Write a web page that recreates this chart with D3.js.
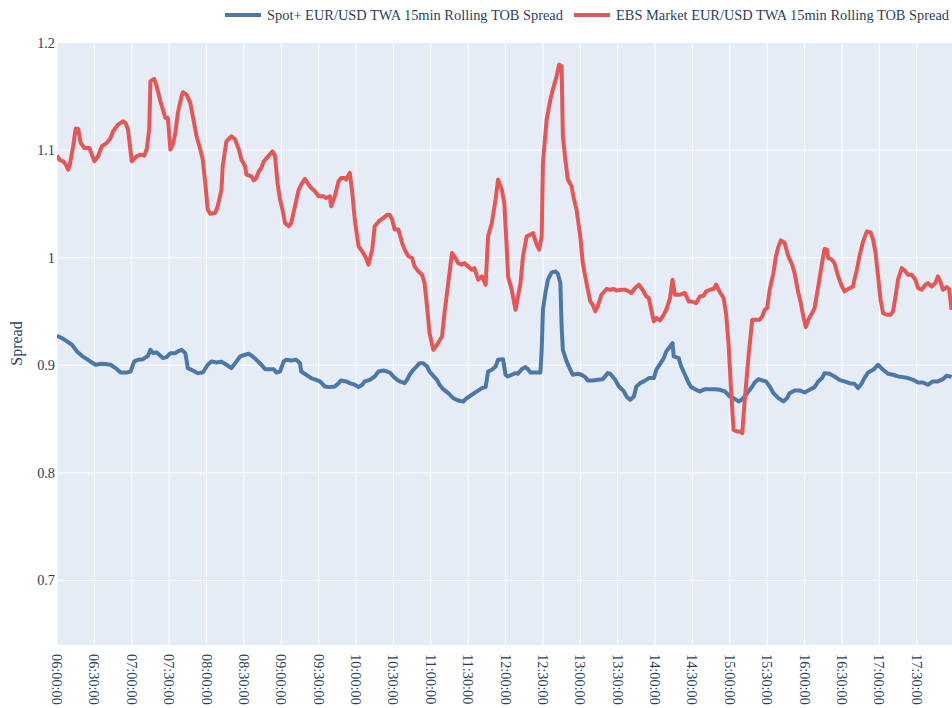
<!DOCTYPE html>
<html>
<head>
<meta charset="utf-8">
<script src="https://cdn.jsdelivr.net/npm/d3@7"></script>
<style>
  body { margin: 0; background: #fff; }
  svg { display: block; font-family: "Liberation Serif", "Times New Roman", serif; }
</style>
</head>
<body>
<div id="chart"></div>
<script>
// series names
const seriesNames = [
  "Spot+ EUR/USD TWA 15min Rolling TOB Spread",
  "EBS Market EUR/USD TWA 15min Rolling TOB Spread"
];

// Spot+ (blue)
const spotTimes = ["06:00","06:04","06:08","06:12","06:16","06:20","06:24","06:28","06:31","06:35","06:39","06:43","06:47","06:51","06:56","06:59",
  "07:02","07:05","07:09","07:13","07:15","07:17","07:20","07:23","07:25","07:28","07:31","07:35","07:37","07:40","07:43","07:45","07:49","07:53","07:57",
  "08:01","08:04","08:08","08:12","08:16","08:20","08:23","08:27","08:31","08:34","08:37","08:40","08:44","08:47","08:51","08:54","08:56","08:59",
  "09:02","09:04","09:08","09:12","09:15","09:16","09:20","09:24","09:28","09:31","09:35","09:39","09:43","09:46","09:48","09:52","09:55","09:59",
  "10:02","10:05","10:07","10:11","10:15","10:18","10:22","10:25","10:27","10:30","10:33","10:35","10:39","10:41","10:43","10:46","10:49","10:51","10:54","10:57","10:59",
  "11:02","11:05","11:07","11:10","11:14","11:18","11:22","11:26","11:29","11:33","11:37","11:41","11:44","11:46","11:49","11:52","11:54","11:58",
  "12:00","12:02","12:05","12:08","12:10","12:13","12:16","12:18","12:20","12:24","12:28","12:29","12:30","12:32","12:34","12:37","12:40","12:42","12:44","12:45","12:46","12:49","12:52","12:54","12:58",
  "13:01","13:04","13:06","13:10","13:14","13:18","13:22","13:24","13:28","13:31","13:35","13:37","13:40","13:43","13:45","13:48","13:51","13:55","13:59",
  "14:01","14:03","14:07","14:09","14:12","14:14","14:15","14:19","14:21","14:24","14:27","14:29","14:33","14:36","14:40","14:44","14:48","14:52","14:56",
  "15:00","15:03","15:07","15:10","15:14","15:18","15:20","15:23","15:26","15:29","15:32","15:35","15:39","15:43","15:46","15:48","15:52","15:56",
  "16:00","16:04","16:08","16:11","16:14","16:16","16:20","16:24","16:28","16:32","16:36","16:40","16:43","16:46","16:48","16:51","16:55","16:59",
  "17:03","17:07","17:11","17:15","17:19","17:23","17:27","17:31","17:35","17:39","17:43","17:47","17:51","17:54","17:57","17:58"];
const spotValues = [0.9274,0.9253,0.9222,0.9191,0.9129,0.9088,0.9057,0.9026,0.9005,0.9014,0.9011,0.9005,0.8974,0.8933,0.8933,0.8942,
  0.9036,0.9051,0.9057,0.9088,0.9144,0.9113,0.9120,0.9088,0.9067,0.9076,0.9113,0.9113,0.9129,0.9144,0.9113,0.8974,0.8952,0.8927,0.8933,
  0.9005,0.9036,0.9026,0.9033,0.9005,0.8974,0.9020,0.9082,0.9098,0.9107,0.9082,0.9051,0.9005,0.8964,0.8964,0.8964,0.8933,0.8942,
  0.9036,0.9051,0.9045,0.9051,0.9020,0.8942,0.8912,0.8881,0.8865,0.8850,0.8803,0.8797,0.8803,0.8834,0.8859,0.8850,0.8834,0.8819,
  0.8797,0.8819,0.8850,0.8865,0.8896,0.8942,0.8952,0.8942,0.8933,0.8896,0.8865,0.8850,0.8834,0.8865,0.8912,0.8958,0.8995,0.9020,0.9020,0.8989,0.8942,
  0.8902,0.8865,0.8819,0.8778,0.8741,0.8695,0.8673,0.8664,0.8695,0.8726,0.8757,0.8788,0.8797,0.8942,0.8958,0.8989,0.9051,0.9057,
  0.8911,0.8896,0.8912,0.8927,0.8921,0.8964,0.8983,0.8964,0.8933,0.8933,0.8933,0.9144,0.9516,0.9672,0.9795,0.9864,0.9873,0.9851,0.9764,0.9361,0.9144,0.9036,0.8958,0.8912,0.8921,
  0.8912,0.8890,0.8859,0.8859,0.8865,0.8871,0.8927,0.8921,0.8865,0.8803,0.8757,0.8710,0.8679,0.8710,0.8803,0.8834,0.8850,0.8881,0.8881,
  0.8958,0.8995,0.9067,0.9129,0.9175,0.9206,0.9082,0.9067,0.8989,0.8912,0.8834,0.8797,0.8772,0.8757,0.8778,0.8778,0.8778,0.8772,0.8757,
  0.8710,0.8695,0.8664,0.8685,0.8741,0.8803,0.8840,0.8871,0.8859,0.8850,0.8803,0.8741,0.8695,0.8664,0.8695,0.8741,0.8766,0.8766,
  0.8747,0.8772,0.8797,0.8850,0.8881,0.8927,0.8921,0.8896,0.8865,0.8850,0.8834,0.8828,0.8788,0.8834,0.8881,0.8933,0.8958,0.9005,
  0.8958,0.8921,0.8912,0.8896,0.8890,0.8881,0.8865,0.8840,0.8840,0.8819,0.8850,0.8850,0.8871,0.8902,0.8896,0.8890];

// EBS Market (red)
const ebsTimes = ["06:00","06:02","06:05","06:07","06:09","06:10","06:13","06:15","06:17","06:19","06:22","06:26","06:30","06:33","06:36","06:40","06:43","06:45","06:49","06:53","06:55","06:57",
  "07:00","07:04","07:07","07:10","07:12","07:14","07:15","07:18","07:20","07:23","07:25","07:27","07:29","07:31","07:33","07:35","07:37","07:40","07:41","07:44","07:47","07:49","07:52","07:55","07:57","07:59",
  "08:01","08:03","08:07","08:09","08:12","08:13","08:16","08:20","08:23","08:26","08:28","08:31","08:32","08:36","08:38","08:40","08:42","08:44","08:46","08:50","08:53","08:55","08:57","08:59",
  "09:01","09:03","09:06","09:08","09:11","09:14","09:16","09:19","09:22","09:24","09:27","09:30","09:34","09:36","09:39","09:40","09:43","09:46","09:48","09:51","09:52","09:55","09:57","09:59",
  "10:02","10:05","10:08","10:10","10:13","10:15","10:19","10:22","10:25","10:27","10:29","10:31","10:34","10:37","10:39","10:42","10:45","10:47","10:50","10:53","10:55","10:57","10:59",
  "11:02","11:05","11:09","11:11","11:14","11:17","11:19","11:22","11:25","11:27","11:30","11:33","11:35","11:38","11:41","11:44","11:46","11:49","11:52","11:54","11:57","11:59",
  "12:01","12:02","12:05","12:08","12:12","12:14","12:17","12:20","12:22","12:25","12:27","12:29","12:30","12:33","12:36","12:38","12:41","12:43","12:45","12:46","12:48","12:50","12:53","12:55","12:57",
  "13:00","13:02","13:05","13:08","13:10","13:12","13:14","13:17","13:21","13:24","13:27","13:29","13:33","13:36","13:39","13:41","13:44","13:47","13:50","13:53","13:55","13:57","13:59",
  "14:01","14:04","14:07","14:09","14:12","14:14","14:16","14:20","14:24","14:27","14:29","14:33","14:36","14:39","14:41","14:44","14:47","14:49","14:52","14:55","14:57","14:59",
  "15:01","15:03","15:06","15:08","15:10","15:12","15:15","15:18","15:20","15:24","15:26","15:28","15:30","15:32","15:35","15:37","15:39","15:41","15:44","15:47","15:50","15:52","15:55","15:57","15:59",
  "16:01","16:03","16:06","16:08","16:11","16:14","16:16","16:18","16:19","16:22","16:24","16:27","16:30","16:32","16:35","16:39","16:40","16:42","16:44","16:47","16:50","16:53","16:55","16:57","16:59",
  "17:01","17:03","17:06","17:09","17:11","17:13","17:15","17:18","17:21","17:23","17:26","17:29","17:31","17:34","17:37","17:39","17:42","17:45","17:47","17:49","17:51","17:54","17:56","17:58"];
const ebsValues = [1.0949,1.0912,1.0896,1.0865,1.0819,1.0850,1.1036,1.1200,1.1197,1.1067,1.1020,1.1020,1.0896,1.0943,1.1036,1.1067,1.1113,1.1175,1.1237,1.1268,1.1253,1.1191,
  1.0896,1.0943,1.0958,1.0949,1.1005,1.1191,1.1640,1.1662,1.1594,1.1454,1.1377,1.1299,1.1299,1.1005,1.1051,1.1160,1.1346,1.1501,1.1538,1.1516,1.1439,1.1315,1.1129,1.1005,1.0912,1.0695,
  1.0447,1.0409,1.0416,1.0478,1.0633,1.0850,1.1082,1.1129,1.1098,1.1005,1.0912,1.0850,1.0772,1.0757,1.0719,1.0741,1.0803,1.0834,1.0896,1.0949,1.0989,1.0943,1.0695,1.0540,
  1.0447,1.0323,1.0292,1.0323,1.0478,1.0633,1.0679,1.0732,1.0679,1.0648,1.0617,1.0571,1.0571,1.0555,1.0571,1.0478,1.0571,1.0710,1.0741,1.0741,1.0726,1.0788,1.0602,1.0354,
  1.0106,1.0059,0.9997,0.9935,1.0075,1.0292,1.0347,1.0369,1.0400,1.0400,1.0354,1.0261,1.0261,1.0137,1.0075,1.0013,0.9997,0.9919,0.9873,0.9842,0.9764,0.9547,0.9299,
  0.9144,0.9191,0.9268,0.9485,0.9764,1.0043,1.0012,0.9950,0.9935,0.9950,0.9919,0.9888,0.9904,0.9795,0.9826,0.9749,1.0198,1.0323,1.0540,1.0726,1.0633,1.0509,
  1.0084,0.9826,0.9702,0.9516,0.9764,1.0012,1.0198,1.0214,1.0229,1.0121,1.0075,1.0198,1.0881,1.1284,1.1470,1.1563,1.1687,1.1795,1.1780,1.1129,1.0912,1.0726,1.0664,1.0540,1.0447,
  1.0198,0.9950,0.9764,0.9594,0.9563,0.9501,0.9547,0.9656,0.9709,0.9702,0.9709,0.9696,0.9702,0.9702,0.9687,0.9672,0.9718,0.9749,0.9702,0.9640,0.9625,0.9516,0.9408,
  0.9439,0.9417,0.9470,0.9516,0.9625,0.9795,0.9656,0.9656,0.9672,0.9594,0.9594,0.9578,0.9640,0.9646,0.9687,0.9702,0.9709,0.9749,0.9680,0.9625,0.9480,0.9200,
  0.8772,0.8400,0.8384,0.8384,0.8369,0.8679,0.9082,0.9423,0.9423,0.9423,0.9454,0.9516,0.9532,0.9702,0.9857,1.0012,1.0105,1.0161,1.0137,1.0012,0.9935,0.9857,0.9671,0.9578,0.9454,
  0.9355,0.9423,0.9485,0.9532,0.9733,0.9950,1.0081,1.0075,0.9997,0.9981,0.9950,0.9826,0.9733,0.9687,0.9709,0.9733,0.9795,0.9888,1.0012,1.0152,1.0245,1.0236,1.0168,1.0043,0.9826,
  0.9609,0.9485,0.9470,0.9470,0.9501,0.9640,0.9795,0.9904,0.9873,0.9842,0.9842,0.9795,0.9718,0.9702,0.9749,0.9764,0.9733,0.9764,0.9826,0.9780,0.9702,0.9727,0.9709,0.9516];

// axis ticks
const xTickLabels = ["06:00:00","06:30:00","07:00:00","07:30:00","08:00:00","08:30:00","09:00:00","09:30:00",
  "10:00:00","10:30:00","11:00:00","11:30:00","12:00:00","12:30:00","13:00:00","13:30:00","14:00:00","14:30:00",
  "15:00:00","15:30:00","16:00:00","16:30:00","17:00:00","17:30:00"];
const yTicks = [0.7, 0.8, 0.9, 1.0, 1.1, 1.2];
const xStart = "06:00:00";
const xEnd = "17:58:19";

const colors = ["#4C78A8", "#E45756"];

var width = 952;
var height = 708;
var plotLeft = 57, plotRight = 952, plotTop = 42, plotBottom = 645;

const parseT = d3.timeParse("%H:%M");
const parseTs = d3.timeParse("%H:%M:%S");

const seriesData = [
  spotTimes.map((t, i) => ({ t: parseT(t), v: spotValues[i] })),
  ebsTimes.map((t, i) => ({ t: parseT(t), v: ebsValues[i] }))
];

var svg = d3.select("#chart")
  .append("svg")
  .attr("width", width)
  .attr("height", height);

var xscale = d3.scaleTime()
  .domain([parseTs(xStart), parseTs(xEnd)])
  .range([plotLeft, plotRight]);

var yscale = d3.scaleLinear()
  .domain([0.64, 1.2005])
  .range([plotBottom, plotTop]);

// plot background
svg.append("rect")
  .attr("x", plotLeft)
  .attr("y", plotTop)
  .attr("width", plotRight - plotLeft)
  .attr("height", plotBottom - plotTop)
  .attr("fill", "#E5ECF6");

// grid lines
svg.append("g")
  .selectAll("line")
  .data(xTickLabels)
  .join("line")
  .attr("x1", d => xscale(parseTs(d)))
  .attr("x2", d => xscale(parseTs(d)))
  .attr("y1", plotTop)
  .attr("y2", plotBottom)
  .attr("stroke", "#fff")
  .attr("stroke-width", 1);

svg.append("g")
  .selectAll("line")
  .data(yTicks)
  .join("line")
  .attr("x1", plotLeft)
  .attr("x2", plotRight)
  .attr("y1", d => yscale(d))
  .attr("y2", d => yscale(d))
  .attr("stroke", "#fff")
  .attr("stroke-width", 1);

// y tick labels
svg.append("g")
  .selectAll("text")
  .data(yTicks)
  .join("text")
  .attr("x", plotLeft - 2)
  .attr("y", d => yscale(d))
  .attr("dy", "0.35em")
  .attr("text-anchor", "end")
  .attr("fill", "#2a3f5f")
  .style("font-size", "14.3px")
  .text(d => d3.format("~g")(d));

// x tick labels (rotated)
svg.append("g")
  .selectAll("text")
  .data(xTickLabels)
  .join("text")
  .attr("transform", d => `translate(${xscale(parseTs(d))}, 654) rotate(90)`)
  .attr("dy", "0.35em")
  .attr("text-anchor", "start")
  .attr("fill", "#2a3f5f")
  .style("font-size", "14.3px")
  .text(d => d);

// y axis title
svg.append("text")
  .attr("transform", "rotate(-90)")
  .attr("x", -(plotTop + plotBottom) / 2)
  .attr("y", 22)
  .attr("text-anchor", "middle")
  .attr("fill", "#2a3f5f")
  .style("font-size", "16px")
  .text("Spread");

// lines
svg.append("clipPath")
  .attr("id", "plotclip")
  .append("rect")
  .attr("x", plotLeft)
  .attr("y", plotTop)
  .attr("width", plotRight - plotLeft)
  .attr("height", plotBottom - plotTop);

var line = d3.line()
  .x(d => xscale(d.t))
  .y(d => yscale(d.v));

svg.append("g")
  .attr("clip-path", "url(#plotclip)")
  .selectAll("path")
  .data(seriesData)
  .join("path")
  .attr("d", d => line(d))
  .attr("fill", "none")
  .attr("stroke", (d, i) => colors[i])
  .attr("stroke-width", 4)
  .attr("stroke-linejoin", "round");

// legend
var legendX = [225, 574];
var legend = svg.append("g")
  .selectAll("g")
  .data(seriesNames)
  .join("g")
  .attr("transform", (d, i) => `translate(${legendX[i]}, 15)`);

legend.append("line")
  .attr("x1", 0)
  .attr("x2", 36)
  .attr("stroke", (d, i) => colors[i])
  .attr("stroke-width", 4);

legend.append("text")
  .attr("x", 42)
  .attr("dy", "0.35em")
  .attr("fill", "#2a3f5f")
  .style("font-size", "14.4px")
  .text(d => d);
</script>
</body>
</html>
